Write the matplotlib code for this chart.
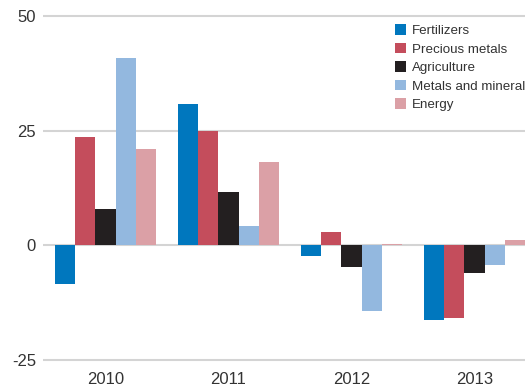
import numpy as np
import matplotlib
matplotlib.use("Agg")
import matplotlib.pyplot as plt

years = ["2010", "2011", "2012", "2013"]
series = ["Fertilizers", "Precious metals", "Agriculture", "Metals and mineral", "Energy"]
fertilizers = [-8.5, 30.7, -2.4, -16.3]
precious_metals = [23.5, 25.0, 2.8, -15.9]
agriculture = [7.8, 11.5, -4.8, -6.1]
metals_minerals = [40.7, 4.1, -14.4, -4.4]
energy = [20.9, 18.1, 0.3, 1.1]
colors = ["#0077be", "#c44d5c", "#231f20", "#93b8df", "#dba0a6"]

values = [fertilizers, precious_metals, agriculture, metals_minerals, energy]

plt.rcParams["font.family"] = ["Liberation Sans", "DejaVu Sans"]
plt.rcParams["axes.unicode_minus"] = False

fig = plt.figure(figsize=(5.25, 3.85), dpi=100)
ax = fig.add_axes([0.0819, 0.053, 0.918, 0.918])

x = np.arange(len(years))
w = 0.163
for i, (name, vals, c) in enumerate(zip(series, values, colors)):
    ax.bar(x + (i - 2) * w, vals, width=w, color=c, label=name,
           linewidth=0, zorder=3)

ax.set_ylim(-26, 51)
ax.set_xlim(-0.508, 3.41)
ax.set_yticks([-25, 0, 25, 50])
ax.set_xticks(x)
ax.set_xticklabels(years)
ax.tick_params(length=0, labelsize=12, labelcolor="#333333")
ax.tick_params(axis="y", pad=5)
ax.tick_params(axis="x", pad=5)
ax.yaxis.grid(True, color="#d4d4d4", linewidth=1.5, zorder=0)
for s in ax.spines.values():
    s.set_visible(False)

# legend sits between the 50 and 25 gridlines, flush with the right edge
leg = ax.legend(loc="upper left", bbox_to_anchor=(0.730, 0.963),
                frameon=False, handlelength=0.85, handleheight=0.85,
                handletextpad=0.45, labelspacing=0.42, borderpad=0,
                borderaxespad=0,
                prop={"family": "Liberation Sans", "size": 9.6})
for t in leg.get_texts():
    t.set_color("#333333")

fig.savefig("out.png", dpi=100)
